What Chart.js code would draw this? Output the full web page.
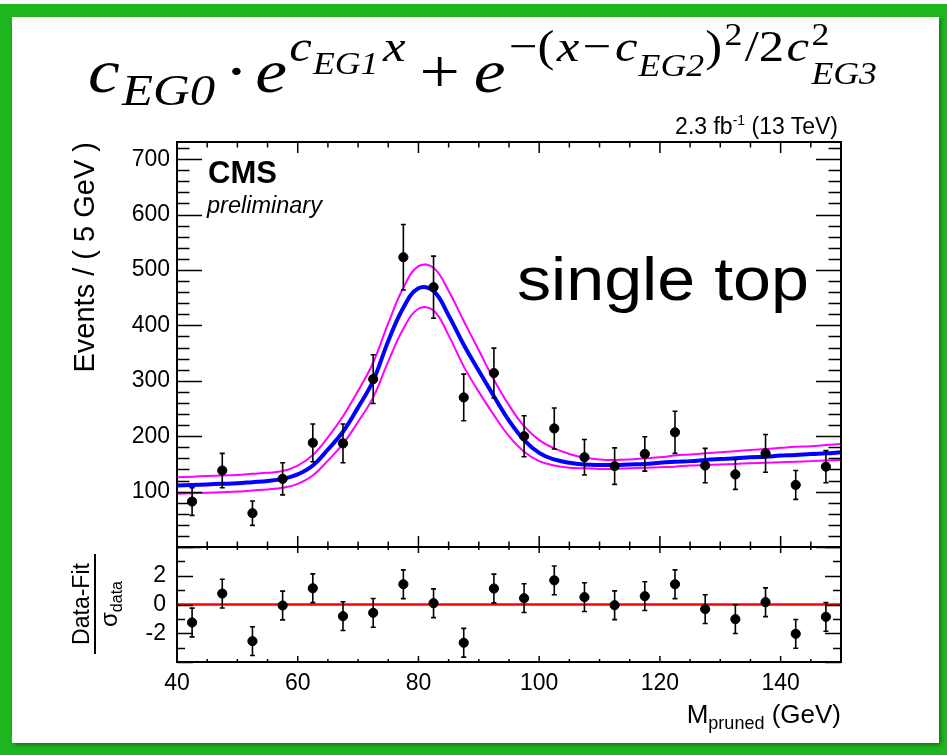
<!DOCTYPE html>
<html>
<head>
<meta charset="utf-8">
<script src="https://cdn.jsdelivr.net/npm/chart.js@4.4.0/dist/chart.umd.min.js"></script>
<style>
html, body { margin: 0; padding: 0; width: 947px; height: 755px; overflow: hidden; background: #fff; font-family: "Liberation Sans", Arial, sans-serif; }
#green { position: absolute; left: 0; top: 4px; width: 947px; height: 751px; background: #1eb61e; }
#paper { position: absolute; left: 12px; top: 17px; width: 927px; height: 726px; background: #fff; box-shadow: 2px 2px 4px rgba(0,0,0,0.35); }
canvas { position: absolute; left: 0; top: 0; }
.t { position: absolute; white-space: nowrap; color: #000; }
</style>
</head>
<body>
<div id="green"></div>
<div id="paper"></div>
<canvas id="top" width="947" height="755"></canvas>
<canvas id="bottom" width="947" height="755"></canvas>
<div id="labels"></div>
<script>
// bins (GeV) and data
const binCenters = [42.5, 47.5, 52.5, 57.5, 62.5, 67.5, 72.5, 77.5, 82.5, 87.5, 92.5,
                    97.5, 102.5, 107.5, 112.5, 117.5, 122.5, 127.5, 132.5, 137.5, 142.5, 147.5];
const events      = [82, 138, 61, 123, 188, 187, 303, 523, 469, 270, 314,
                     200, 214, 162, 146, 168, 207, 147, 131, 169, 112, 145];
const eventErrors = [25, 31, 22, 29, 34, 35, 44, 59, 56, 42, 45,
                     37, 37, 32, 33, 31, 38, 31, 27, 34, 26, 29];
const pulls       = [-1.25, 0.76, -2.55, -0.07, 1.13, -0.81, -0.58, 1.41, 0.09, -2.66, 1.11,
                     0.44, 1.68, 0.51, -0.05, 0.58, 1.41, -0.32, -1.02, 0.16, -2.04, -0.86];
const pullErrors  = [1, 1, 1, 1, 1, 1, 1, 1, 1, 1, 1, 1, 1, 1, 1, 1, 1, 1, 1, 1, 1, 1];

// fit curve
const fitMass = [40, 42.5, 45, 47.5, 50, 52.5, 55, 57.5, 60, 62.5, 65, 67.5, 70, 72.5, 75,
                 77.5, 80, 82.5, 85, 87.5, 90, 92.5, 95, 97.5, 100, 102.5, 105, 107.5, 110,
                 112.5, 115, 117.5, 120, 122.5, 125, 127.5, 130, 132.5, 135, 137.5, 140,
                 142.5, 145, 147.5, 150];
const fitCentral = [111, 112, 113, 114, 115, 117, 119, 123, 131, 147, 176, 208, 252, 300, 372,
                    432, 467, 462, 418, 365, 318, 272, 228, 193, 170, 158, 152, 149, 148,
                    148, 149, 150, 152, 154, 155, 157, 159, 160, 162, 163, 165,
                    166, 168, 169, 171];
const fitUpper = [126, 127, 128, 129, 130, 132, 134, 137, 147, 166, 198, 236, 282, 333, 404,
                  468, 507, 504, 462, 408, 355, 302, 256, 218, 193, 178, 168, 161, 158,
                  157, 158, 160, 162, 165, 167, 169, 171, 173, 175, 177, 179,
                  181, 182, 184, 186];
const fitLower = [96, 97, 98, 99, 100, 102, 104, 107, 114, 129, 156, 186, 226, 270, 335,
                  394, 430, 427, 382, 326, 280, 238, 200, 172, 155, 147, 143, 142, 141,
                  141, 142, 143, 144, 145, 147, 148, 149, 150, 151, 152, 153,
                  154, 155, 156, 157];
const zeroMass = [40, 150];
const zeroLine = [0, 0];

const pts = (xs, ys) => xs.map((x, i) => ({ x: x, y: ys[i] }));

Chart.defaults.font.family = '"Liberation Sans", Arial, sans-serif';
Chart.defaults.color = '#000';

// ROOT-style frame with inward ticks
const frameTicks = (o) => ({
    id: 'frameTicks',
    afterDraw(chart) {
        const ctx = chart.ctx, a = chart.chartArea;
        const x = chart.scales.x, y = chart.scales.y;
        ctx.save();
        ctx.strokeStyle = '#000';
        ctx.lineWidth = 1.5;
        ctx.beginPath();
        for (let v = o.yFrom; v <= o.yTo + 1e-6; v += o.yStep) {
            const major = Math.abs(v / o.yMajor - Math.round(v / o.yMajor)) < 1e-6;
            const len = major ? o.yLong : o.yShort;
            const py = Math.round(y.getPixelForValue(v)) + 0.5;
            ctx.moveTo(a.left, py); ctx.lineTo(a.left + len, py);
            ctx.moveTo(a.right, py); ctx.lineTo(a.right - len, py);
        }
        for (let v = 40; v <= 150; v += 5) {
            const len = v % 20 === 0 ? o.xLong : o.xShort;
            const px = x.getPixelForValue(v);
            ctx.moveTo(px, a.bottom); ctx.lineTo(px, a.bottom - len);
            ctx.moveTo(px, a.top); ctx.lineTo(px, a.top + len);
        }
        ctx.stroke();
        ctx.lineWidth = 2;
        ctx.strokeRect(a.left, a.top, a.right - a.left, a.bottom - a.top);
        ctx.restore();
    }
});

// vertical error bars, drawn just before the marker dataset
const errorBars = (index, centers, values, errors) => ({
    id: 'errorBars',
    beforeDatasetDraw(chart, args) {
        if (args.index !== index) return;
        const ctx = chart.ctx, x = chart.scales.x, y = chart.scales.y;
        ctx.save();
        ctx.strokeStyle = '#000';
        ctx.lineWidth = 1.6;
        ctx.beginPath();
        centers.forEach((c, i) => {
            const px = x.getPixelForValue(c);
            const lo = y.getPixelForValue(values[i] - errors[i]);
            const hi = y.getPixelForValue(values[i] + errors[i]);
            ctx.moveTo(px, lo); ctx.lineTo(px, hi);
            ctx.moveTo(px - 2.5, lo); ctx.lineTo(px + 2.5, lo);
            ctx.moveTo(px - 2.5, hi); ctx.lineTo(px + 2.5, hi);
        });
        ctx.stroke();
        ctx.restore();
    }
});

const curve = (ys, color, width, order) => ({
    data: pts(fitMass, ys), showLine: true, borderColor: color, borderWidth: width,
    pointRadius: 0, tension: 0.4, order: order
});

const topChart = new Chart(document.getElementById('top'), {
    type: 'scatter',
    data: {
        datasets: [
            { data: pts(binCenters, events), backgroundColor: '#000', borderColor: '#000',
              pointRadius: 4.6, pointHoverRadius: 4.6, order: 0 },
            curve(fitCentral, '#0000ff', 4, 1),
            curve(fitUpper, '#ff00ff', 2, 2),
            curve(fitLower, '#ff00ff', 2, 2)
        ]
    },
    options: {
        responsive: false,
        animation: false,
        devicePixelRatio: 1,
        events: [],
        layout: { padding: { top: 142, right: 106, bottom: 208, left: 0 } },
        plugins: { legend: { display: false }, tooltip: { enabled: false } },
        scales: {
            x: { type: 'linear', min: 40, max: 150, display: false },
            y: {
                type: 'linear', min: 0, max: 731,
                grid: { display: false, drawTicks: false },
                border: { display: false },
                ticks: { stepSize: 100, includeBounds: false, autoSkip: false, padding: 7, font: { size: 23 },
                         callback: (v) => v === 0 ? '' : v },
                afterFit: (s) => { s.width = 177; }
            }
        }
    },
    plugins: [
        frameTicks({ yFrom: 0, yTo: 720, yStep: 20, yMajor: 100, yLong: 25, yShort: 12.5, xLong: 11, xShort: 5.5 }),
        errorBars(0, binCenters, events, eventErrors)
    ]
});

const bottomChart = new Chart(document.getElementById('bottom'), {
    type: 'scatter',
    data: {
        datasets: [
            { data: pts(binCenters, pulls), backgroundColor: '#000', borderColor: '#000',
              pointRadius: 4.6, pointHoverRadius: 4.6, order: 0 },
            { data: pts(zeroMass, zeroLine), showLine: true, borderColor: '#ff0000', borderWidth: 2.5,
              pointRadius: 0, order: 1 }
        ]
    },
    options: {
        responsive: false,
        animation: false,
        devicePixelRatio: 1,
        events: [],
        layout: { padding: { top: 547, right: 106, bottom: 0, left: 0 } },
        plugins: { legend: { display: false }, tooltip: { enabled: false } },
        scales: {
            x: {
                type: 'linear', min: 40, max: 150,
                grid: { display: false, drawTicks: false },
                border: { display: false },
                ticks: { stepSize: 20, includeBounds: false, autoSkip: false, padding: 8, maxRotation: 0, font: { size: 23 } },
                afterFit: (s) => { s.height = 93; }
            },
            y: {
                type: 'linear', min: -4, max: 4,
                grid: { display: false, drawTicks: false },
                border: { display: false },
                ticks: { stepSize: 2, includeBounds: false, autoSkip: false, padding: 11, font: { size: 23 },
                         callback: (v) => Math.abs(v) === 4 ? '' : v },
                afterFit: (s) => { s.width = 177; }
            }
        }
    },
    plugins: [
        frameTicks({ yFrom: -4, yTo: 4, yStep: 1, yMajor: 2, yLong: 16, yShort: 8, xLong: 6, xShort: 3 }),
        errorBars(0, binCenters, pulls, pullErrors)
    ]
});

// text overlays
const layer = document.getElementById('labels');
function txt(html, o, parent) {
    const d = document.createElement('div');
    d.className = 't';
    d.innerHTML = html;
    d.style.fontSize = o.size + 'px';
    d.style.lineHeight = o.size + 'px';
    d.style.top = (o.base - 0.845 * o.size) + 'px';
    if (o.family) d.style.fontFamily = o.family;
    if (o.weight) d.style.fontWeight = o.weight;
    if (o.style) d.style.fontStyle = o.style;
    if (o.left !== undefined) {
        d.style.left = o.left + 'px';
        d.style.transformOrigin = '0 0';
    } else {
        d.style.right = (947 - o.right) + 'px';
        d.style.transformOrigin = '100% 0';
    }
    if (o.sx) d.style.transform = 'scaleX(' + o.sx + ')';
    (parent || layer).appendChild(d);
    return d;
}

txt('CMS', { left: 208, base: 183, size: 31, weight: 'bold' });
txt('preliminary', { left: 207, base: 214, size: 23.5, style: 'italic' });
txt('single top', { left: 517, base: 300, size: 62, sx: 1.1 });
txt('2.3 fb<span style="font-size:14px;position:relative;top:-9px">-1</span> (13 TeV)',
    { right: 838, base: 134, size: 23 });
txt('M<span style="font-size:18px;position:relative;top:6px">pruned</span> (GeV)',
    { right: 841, base: 723, size: 26 });

// y axis titles
const yt = document.createElement('div');
yt.className = 't';
yt.textContent = 'Events / ( 5 GeV )';
Object.assign(yt.style, { left: '0px', top: '0px', width: '400px', height: '30px', lineHeight: '30px',
    textAlign: 'right', fontSize: '29px', transformOrigin: '0 0',
    transform: 'translate(69px, 542px) rotate(-90deg)' });
layer.appendChild(yt);

const rt = document.createElement('div');
rt.className = 't';
rt.innerHTML = '<div style="font-size:23px;line-height:25px;text-align:center;border-bottom:2px solid #000">Data-Fit</div>' +
    '<div style="font-size:24px;line-height:25px;text-align:center">&sigma;<span style="font-size:16px;position:relative;top:5px">data</span></div>';
Object.assign(rt.style, { left: '45px', top: '578px', width: '100px', height: '52px',
    transform: 'rotate(-90deg)' });
layer.appendChild(rt);

// fit formula: [text, gap before, baseline, size, style]
const serif = '"Liberation Serif", "Times New Roman", serif';
const formula = [
    ['c', 0, 92, 62, 'italic'], ['EG0', 2, 106, 44, 'italic'], ['·', 8, 92, 62, 'normal'],
    ['e', 6, 92, 62, 'italic'], ['c', 2, 62, 44, 'italic'], ['EG1', 1, 74, 31, 'italic'],
    ['x', 4, 62, 44, 'italic'], ['+', 12, 92, 62, 'normal'], ['e', 12, 92, 62, 'italic'],
    ['−(', 3, 62, 44, 'normal'], ['x', 2, 62, 44, 'italic'], ['−', 3, 62, 44, 'normal'],
    ['c', 3, 62, 44, 'italic'], ['EG2', 1, 76, 31, 'italic'], [')', 1, 62, 44, 'normal'],
    ['2', 2, 45, 31, 'normal'], ['/2', 2, 62, 44, 'normal'], ['c', 2, 62, 44, 'italic'],
    ['2', 2, 45, 31, 'normal', 'stack'], ['EG3', 0, 84, 31, 'italic', 'below']
];
const fbox = document.createElement('div');
fbox.className = 't';
Object.assign(fbox.style, { left: '88px', top: '0px', transformOrigin: '0 0' });
layer.appendChild(fbox);
let fx = 0, stackX = 0;
formula.forEach((f) => {
    let left;
    if (f[5] === 'below') left = stackX;
    else { fx += f[1]; left = fx; }
    const d = txt(f[0], { left: left, base: f[2], size: f[3], style: f[4], family: serif }, fbox);
    const w = d.getBoundingClientRect().width;
    if (f[5] === 'stack') { stackX = left; }
    if (f[5] === 'below') fx = Math.max(fx, left + w);
    else fx = left + w;
});
fbox.style.transform = 'scaleX(' + (789 / fx) + ')';
</script>
</body>
</html>
